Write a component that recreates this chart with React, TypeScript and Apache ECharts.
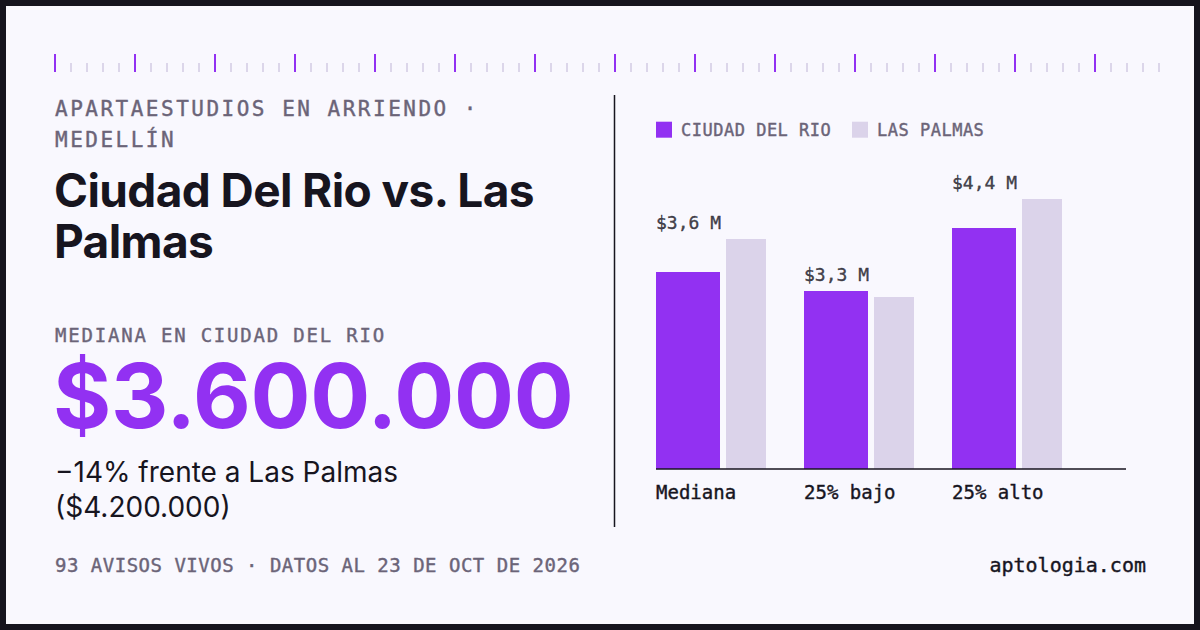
import { useEffect, useRef } from "react";
import * as echarts from "echarts";

// Rent figures in millions of COP
const categories = ["Mediana", "25% bajo", "25% alto"];
const ciudadDelRio = [3.6, 3.25, 4.4];
const lasPalmas = [4.2, 3.14, 4.93];
const seriesNames = ["Ciudad Del Rio", "Las Palmas"];
const listingCount = 93;
const dataDate = "23 DE OCT DE 2026";
const kicker = ["APARTAESTUDIOS EN ARRIENDO ·", "MEDELLÍN"];
const titleLines = ["Ciudad Del Rio vs. Las", "Palmas"];
const site = "aptologia.com";

const PURPLE = "#9231f2";
const LAVENDER = "#dbd3ea";
const TICK_LIGHT = "#dcd6ea";
const INK = "#17151f";
const MUTED = "#6b6478";
const PAPER = "#f9f8fe";
const FRAME = "#16141e";
const MONO = "'DejaVu Sans Mono', monospace";
const SANS = "Inter, 'Noto Sans', sans-serif";
// thin outline that gives the monospace text a medium weight
const MONO_STROKE = 0.4;

const fmtPesos = (m: number) =>
  "$" + Math.round(m * 1e6).toString().replace(/\B(?=(\d{3})+(?!\d))/g, ".");
const fmtShort = (m: number) => "$" + m.toFixed(1).replace(".", ",") + " M";

const diffPct = Math.round(((ciudadDelRio[0] - lasPalmas[0]) / lasPalmas[0]) * 100);
const diffLine1 = `${diffPct < 0 ? "\u2212" : "+"}${Math.abs(diffPct)}% frente a ${seriesNames[1]}`;
const diffLine2 = `(${fmtPesos(lasPalmas[0])})`;
const bigNumber = fmtPesos(ciudadDelRio[0]);
const medianCaption = `MEDIANA EN ${seriesNames[0].toUpperCase()}`;
const footer = `${listingCount} AVISOS VIVOS · DATOS AL ${dataDate}`;

// Tracking applied to SVG text nodes after render (zrender has no letter-spacing)
const SPACING: Record<string, number> = {
  [kicker[0]]: 2.5,
  [kicker[1]]: 2.5,
  [titleLines[0]]: -0.6,
  [titleLines[1]]: -0.6,
  [medianCaption]: 1.8,
  [bigNumber]: -0.3,
  [diffLine1]: 0,
  [diffLine2]: 0,
  [footer]: 0.5,
  [seriesNames[0].toUpperCase()]: 0.5,
  [seriesNames[1].toUpperCase()]: 0.5,
};

type TextOpts = {
  size: number;
  family: string;
  color: string;
  weight?: number | string;
  align?: "left" | "right" | "center";
  lineHeight?: number;
};

const text = (t: string, x: number, y: number, o: TextOpts) => ({
  type: "text",
  x,
  y,
  silent: true,
  style: {
    text: t,
    fontSize: o.size,
    fontFamily: o.family,
    fontWeight: o.weight ?? 400,
    fill: o.color,
    align: o.align ?? "left",
    verticalAlign: "middle",
    lineHeight: o.lineHeight ?? Math.round(o.size * 1.15),
    ...(o.family === MONO ? { stroke: o.color, lineWidth: MONO_STROKE } : {}),
  },
});

function buildGraphics() {
  const els: any[] = [
    {
      type: "rect",
      z: -10,
      silent: true,
      shape: { x: 6, y: 6, width: 1188, height: 618 },
      style: { fill: PAPER },
    },
  ];
  // ruler along the top
  for (let i = 0; i < 70; i++) {
    const major = i % 5 === 0;
    const x = 55 + i * 16;
    els.push({
      type: "rect",
      silent: true,
      shape: { x: x - 1, y: major ? 54 : 63, width: 2, height: major ? 18 : 9 },
      style: { fill: major ? PURPLE : TICK_LIGHT },
    });
  }
  els.push(
    text(kicker[0], 55, 109, { size: 21, family: MONO, color: MUTED }),
    text(kicker[1], 55, 139.5, { size: 21, family: MONO, color: MUTED }),
    text(titleLines[0], 54, 190, { size: 46, family: SANS, weight: 700, color: INK }),
    text(titleLines[1], 54, 241, { size: 46, family: SANS, weight: 700, color: INK }),
    text(medianCaption, 55, 334.5, { size: 19, family: MONO, color: MUTED, lineHeight: 19 }),
    text(bigNumber, 53, 395, { size: 89, family: SANS, weight: 700, color: PURPLE, lineHeight: 78 }),
    text(diffLine1, 55, 471.5, { size: 28, family: SANS, color: INK, lineHeight: 30 }),
    text(diffLine2, 55, 506.5, { size: 28, family: SANS, color: INK, lineHeight: 30 }),
    text(footer, 55, 564.5, { size: 19, family: MONO, color: MUTED }),
    text(site, 1146, 564.5, { size: 20, family: MONO, color: INK, align: "right" }),
    {
      type: "line",
      silent: true,
      shape: { x1: 614.5, y1: 95, x2: 614.5, y2: 527 },
      style: { stroke: INK, lineWidth: 1.5 },
    },
    {
      type: "line",
      silent: true,
      z: 100,
      shape: { x1: 656, y1: 469, x2: 1126, y2: 469 },
      style: { stroke: INK, lineWidth: 1.5 },
    }
  );
  return els;
}

const legendBase = {
  orient: "horizontal",
  top: 121,
  padding: 0,
  itemWidth: 16,
  itemHeight: 16,
  icon: "rect",
  selectedMode: false,
  formatter: (name: string) => name.toUpperCase(),
  textStyle: {
    color: MUTED,
    fontFamily: MONO,
    fontSize: 17,
    padding: [0, 0, 0, 4],
    textBorderColor: MUTED,
    textBorderWidth: MONO_STROKE,
  },
};

export default function App() {
  const ref = useRef<HTMLDivElement>(null);

  useEffect(() => {
    const el = ref.current;
    if (!el) return;
    document.body.style.margin = "0";
    const chart = echarts.init(el, undefined, { renderer: "svg" });
    chart.setOption({
      animation: false,
      backgroundColor: FRAME,
      tooltip: { show: false },
      legend: [
        { ...legendBase, left: 656, data: [seriesNames[0]] },
        { ...legendBase, left: 852, data: [seriesNames[1]] },
      ],
      grid: { left: 637, top: 140.5, width: 444, height: 328.5, containLabel: false },
      xAxis: {
        type: "category",
        data: categories,
        axisLine: { show: false },
        axisTick: { show: false },
        axisLabel: {
          interval: 0,
          color: INK,
          fontFamily: MONO,
          fontSize: 19,
          align: "left",
          verticalAlign: "middle",
          margin: 23,
          padding: [0, 0, 0, -55],
          textBorderColor: INK,
          textBorderWidth: MONO_STROKE,
        },
      },
      yAxis: { type: "value", min: 0, max: 6, show: false },
      series: [
        {
          type: "bar",
          name: seriesNames[0],
          data: ciudadDelRio,
          barWidth: 64,
          barGap: "9.375%",
          itemStyle: { color: PURPLE },
          silent: true,
        },
        {
          type: "bar",
          name: seriesNames[1],
          data: lasPalmas,
          barWidth: 40,
          barGap: "9.375%",
          itemStyle: { color: LAVENDER },
          silent: true,
        },
        {
          // value tags sit above the taller bar of each pair
          type: "scatter",
          data: categories.map((_, i) => Math.max(ciudadDelRio[i], lasPalmas[i])),
          symbol: "rect",
          symbolSize: 1,
          itemStyle: { color: "rgba(0,0,0,0)" },
          silent: true,
          z: 5,
          label: {
            show: true,
            position: "inside",
            align: "left",
            verticalAlign: "middle",
            offset: [-55, -17],
            color: INK,
            fontFamily: MONO,
            fontSize: 18,
            textBorderColor: INK,
            textBorderWidth: MONO_STROKE,
            formatter: (p: any) => fmtShort(ciudadDelRio[p.dataIndex]),
          },
        },
      ],
      graphic: { elements: buildGraphics() },
    });

    const applySpacing = () => {
      el.querySelectorAll("text").forEach((t) => {
        const s = SPACING[t.textContent ?? ""];
        if (s !== undefined) t.setAttribute("letter-spacing", String(s));
      });
    };
    applySpacing();
    chart.on("finished", applySpacing);

    return () => {
      chart.dispose();
    };
  }, []);

  return <div ref={ref} style={{ width: 1200, height: 630 }} />;
}
